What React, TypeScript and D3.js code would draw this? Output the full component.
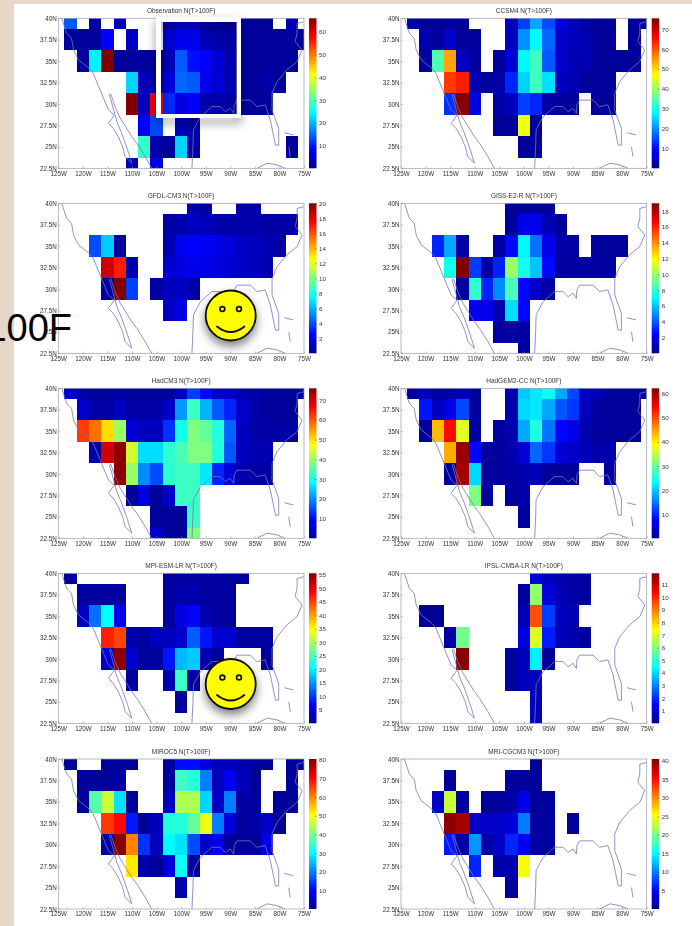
import React, { useEffect, useRef } from 'react';
import * as d3 from 'd3';

const _ = null;

// rows run 40N down to 22.5N, columns run 125W to 75W in 2.5 degree steps
const lats = [40, 37.5, 35, 32.5, 30, 27.5, 25, 22.5];
const lons = [125, 122.5, 120, 117.5, 115, 112.5, 110, 107.5, 105, 102.5, 100, 97.5, 95, 92.5, 90, 87.5, 85, 82.5, 80, 77.5, 75];

const latLabels = ['40N', '37.5N', '35N', '32.5N', '30N', '27.5N', '25N', '22.5N'];
const lonTicks = [125, 120, 115, 110, 105, 100, 95, 90, 85, 80, 75];

const observation = [
  [_, 14, _, 1, _, 3, _, _, _, 4, 6, 6, 3, 2, 2, 1, 1, 1, _, 2, _],
  [_, 1, 1, 1, 8, _, 4, _, _, 5, 7, 7, 3, 2, 2, 1, 1, 1, 1, 1, 1],
  [_, _, 1, 24, 66, 1, 1, 1, 1, 3, 14, 9, 8, 5, 3, 1, 1, 1, 1, 1, _],
  [_, _, _, _, _, _, 22, 3, 3, 6, 15, 14, 7, 5, 3, 1, 1, 2, 1, _, _],
  [_, _, _, _, _, _, 66, 3, 58, 11, 6, 8, 2, 2, 2, 1, 1, 1, _, _, _],
  [_, _, _, _, _, _, _, 8, 13, _, 3, 2, _, _, _, _, _, _, _, _, _],
  [_, _, _, _, _, _, _, 28, 2, 1, 22, 2, _, _, _, _, _, _, _, 1, _],
  [_, _, _, _, _, _, 3, _, 6, _, _, _, _, _, _, _, _, _, _, _, _],
];

const ccsm4 = [
  [_, 2, 1, 1, 1, 1, _, _, _, 4, 14, 22, 15, 7, 4, 2, 1, 1, _, 1, 1],
  [_, _, 3, 1, 5, 1, 1, _, _, 4, 20, 28, 17, 5, 4, 3, 1, 1, _, 1, _],
  [_, _, 1, 34, 54, 4, 1, _, 1, 6, 28, 33, 16, 5, 3, 3, 1, 1, 1, 1, _],
  [_, _, _, _, 62, 64, 3, 1, 2, 12, 25, 33, 26, 4, 3, 1, 1, 1, _, _, _],
  [_, _, _, _, 13, 75, 7, _, 2, 4, 14, 12, 2, 1, 1, _, 1, 1, _, _, _],
  [_, _, _, _, _, _, _, _, 1, 1, 46, 1, _, _, _, _, _, _, _, _, _],
  [_, _, _, _, _, _, _, _, _, _, 1, 1, _, _, _, _, _, _, _, _, _],
  [_, _, _, _, _, _, _, _, _, _, _, _, _, _, _, _, _, _, _, _, _],
];

const gfdl = [
  [_, _, _, _, _, _, _, _, _, _, _, 0.5, 0.5, _, _, 0.5, 0.5, _, _, _, _],
  [_, _, _, _, _, _, _, _, _, 0.5, 0.8, 1.2, 1, 0.7, 0.6, 0.6, 0.6, 0.5, 0.5, 0.5, _],
  [_, _, _, 4, 6.5, 0.4, _, _, _, 0.8, 2.2, 2.5, 2.3, 2, 1.6, 1.2, 1, 0.8, 0.5, _, _],
  [_, _, _, _, 18.5, 17, 0.6, _, _, 1.5, 1.8, 2, 2, 1.8, 1.5, 1.2, 1, 0.7, _, _, _],
  [_, _, _, _, 0.5, 20, 3.7, _, 0.5, 1, 1.2, 0.6, _, _, _, _, _, _, _, _, _],
  [_, _, _, _, _, _, _, _, _, 1.2, 1.8, _, _, _, _, _, _, _, _, _, _],
  [_, _, _, _, _, _, _, _, _, _, _, _, _, _, _, _, _, _, _, _, _],
  [_, _, _, _, _, _, _, _, _, _, _, _, _, _, _, _, _, _, _, _, _],
];

const giss = [
  [_, _, _, _, _, _, _, _, _, 0.3, 0.3, 0.3, 0.3, _, _, _, _, _, _, _, _],
  [_, _, _, _, _, _, _, _, _, 0.3, 2, 2, 0.8, 0.3, _, _, _, _, _, _, _],
  [_, _, _, 3, 5.5, 0.5, _, _, 0.5, 2.5, 7, 4.5, 2, 0.5, 0.5, _, 0.3, 0.3, 0.3, _, _],
  [_, _, _, _, 7.5, 19, 3.5, 0.5, 3, 10, 7.5, 6, 2.5, 0.4, 0.4, 0.4, 0.4, 0.4, _, _, _],
  [_, _, _, _, _, 0.4, 8, 3, 5, 8.5, 2.5, 1.2, 0.6, _, _, _, _, _, _, _, _],
  [_, _, _, _, _, _, 2, 2, 0.7, 6.5, 2.5, _, _, _, _, _, _, _, _, _, _],
  [_, _, _, _, _, _, _, _, 0.4, 0.4, 0.4, _, _, _, _, _, _, _, _, _, _],
  [_, _, _, _, _, _, _, _, _, _, 0.4, _, _, _, _, _, _, _, _, _, _],
];

const hadcm3 = [
  [_, 5, 2, 1, 1, 2, 1, 1, 1, 1, 4, 14, 10, 5, 5, 3, 2, 1, 1, 1, 2],
  [_, _, 5, 2, 2, 4, 2, 2, 2, 5, 21, 33, 23, 16, 12, 5, 2, 1, 1, 1, _],
  [_, _, 62, 58, 50, 40, 6, 4, 4, 13, 30, 38, 36, 31, 17, 4, 2, 2, 2, 2, _],
  [_, _, _, 2, 70, 75, 44, 26, 26, 32, 34, 38, 38, 31, 16, 4, 3, 3, _, _, _],
  [_, _, _, _, _, 75, 40, 20, 15, 32, 33, 33, 27, 12, 6, 3, 2, 2, _, _, _],
  [_, _, _, _, _, _, 1, 7, 1, 5, 33, 33, _, _, _, _, _, _, _, _, _],
  [_, _, _, _, _, _, _, _, 1, 1, 1, 33, _, _, _, _, _, _, _, _, _],
  [_, _, _, _, _, _, _, _, 5, 1, 1, 38, _, _, _, _, _, _, _, _, _],
];

const hadgem2 = [
  [_, 1, 3, 1.5, 1.5, 3, 1, _, _, 2, 20, 22, 24, 18, 12, 4, 3, 1, 1, 1, 1],
  [_, _, 9, 3.5, 6, 12, 1, _, _, 2, 21, 22, 18, 13, 11, 3, 1, 1, 0.8, 0.8, _],
  [_, _, 1, 43, 54, 37, 1, _, 1, 2, 18, 25, 15, 8, 6, 2, 1, 1, 1, 1, _],
  [_, _, _, _, 44, 61, 8, 1, 1, 2, 5, 14, 11, 5, 4, 3, 2, 2, _, _, _],
  [_, _, _, _, 1, 60, 21, 1, 1, 1.5, 2, 3, 1, 1, 1, _, _, 1.5, _, _, _],
  [_, _, _, _, _, _, 31, 1, _, 1, 2, _, _, _, _, _, _, _, _, _, _],
  [_, _, _, _, _, _, _, _, _, _, 1, _, _, _, _, _, _, _, _, _, _],
  [_, _, _, _, _, _, _, _, _, _, _, _, _, _, _, _, _, _, _, _, _],
];

const mpi = [
  [_, 1, _, _, _, _, _, _, _, 1, 1, 1, 1, 1, 1, 1, _, _, _, _, _],
  [_, _, 1, 1, 1, 1, _, _, _, 1, 2, 2, 1, 1, 1, _, _, _, _, _, _],
  [_, _, 3, 13, 21, 6, _, _, _, 1, 5, 7, 2, 1, 1, _, _, _, _, _, _],
  [_, _, _, _, 47, 45, 2, 1, 3, 3, 4, 12, 8, 4, 4, 1, 1, 1, _, _, _],
  [_, _, _, _, 4, 55, 4, 1, 1, 8, 17, 18, 2, 1, _, _, _, 1, _, _, _],
  [_, _, _, _, _, _, 1, _, _, 2, 24, 1, _, _, _, _, _, _, _, _, _],
  [_, _, _, _, _, _, _, _, _, _, 1, _, _, _, _, _, _, _, _, _, _],
  [_, _, _, _, _, _, _, _, _, _, _, _, _, _, _, _, _, _, _, _, _],
];

const ipsl = [
  [_, _, _, _, _, _, _, _, _, _, _, 1, 0.6, 0.4, 0.3, 0.2, _, _, _, _, _],
  [_, _, _, _, _, _, _, _, _, _, 0.2, 6.2, 1, 0.5, 0.3, 0.2, _, _, _, _, _],
  [_, _, 0.1, 0.1, _, _, _, _, _, _, 0.5, 9.5, 2.2, 0.6, 0.5, _, _, _, _, _, _],
  [_, _, _, _, 0.3, 5.8, _, _, _, _, 1, 7, 1.8, 0.5, 0.4, 0.2, _, _, _, _, _],
  [_, _, _, _, _, 11.8, _, _, _, 0.2, 0.6, 4.3, 0.1, _, _, _, _, _, _, _, _],
  [_, _, _, _, _, _, _, _, _, 0.2, 0.6, 0.6, _, _, _, _, _, _, _, _, _],
  [_, _, _, _, _, _, _, _, _, _, _, 0.6, _, _, _, _, _, _, _, _, _],
  [_, _, _, _, _, _, _, _, _, _, _, 0.6, _, _, _, _, _, _, _, _, _],
];

const miroc5 = [
  [_, 1, _, _, 1, 1, 1, _, _, 1, 11, 11, 7, 4, 4, 3, 2, 1, _, 1, 1],
  [_, _, 1, 1, 1, 2, _, _, _, 1, 35, 33, 20, 4, 9, 4, 1, _, _, 1, _],
  [_, _, 1, 37, 46, 28, 1, _, _, 4, 44, 44, 27, 5, 20, 2, 1, _, 1, 1, _],
  [_, _, _, _, 66, 70, 12, 1, 4, 33, 33, 38, 49, 20, 7, 1, 2, 5, 1, _, _],
  [_, _, _, _, 2, 80, 60, 14, 4, 30, 28, 16, 5, 8, 1, 1, 1, 8, _, _, _],
  [_, _, _, _, _, _, 52, 3, 1, 7, 31, 1, _, _, _, _, _, _, _, _, _],
  [_, _, _, _, _, _, _, _, _, _, 3, _, _, _, _, _, _, _, _, _, _],
  [_, _, _, _, _, _, _, _, _, _, _, _, _, _, _, _, _, _, _, _, _],
];

const mri = [
  [_, _, _, _, _, _, _, _, _, _, _, 0.5, _, _, _, _, _, _, _, _, _],
  [_, _, _, _, 0.5, _, _, _, _, 0.7, 0.5, 0.5, _, _, _, _, _, _, _, _, _],
  [_, _, _, 2.5, 23, 0.7, _, 0.5, 0.5, 1.2, 4, 0.6, 0.6, _, _, _, _, _, _, _, _],
  [_, _, _, _, 40, 39, 2.5, 2.5, 2.5, 3.5, 10, 1, 0.7, _, 0.5, _, _, _, _, _, _],
  [_, _, _, _, 6, 1, 11, 1.2, 2.5, 6.5, 4.5, 1, 0.7, _, _, _, _, _, _, _, _],
  [_, _, _, _, _, _, 6.5, _, 1.2, 1.5, 25, _, _, _, _, _, _, _, _, _, _],
  [_, _, _, _, _, _, _, _, _, 0.6, _, _, _, _, _, _, _, _, _, _, _],
  [_, _, _, _, _, _, _, _, _, _, _, _, _, _, _, _, _, _, _, _, _],
];

const titles = [
  'Observation N(T>100F)', 'CCSM4 N(T>100F)',
  'GFDL-CM3 N(T>100F)', 'GISS-E2-R N(T>100F)',
  'HadCM3 N(T>100F)', 'HadGEM2-CC N(T>100F)',
  'MPI-ESM-LR N(T>100F)', 'IPSL-CM5A-LR N(T>100F)',
  'MIROC5 N(T>100F)', 'MRI-CGCM3 N(T>100F)',
];
const grids = [observation, ccsm4, gfdl, giss, hadcm3, hadgem2, mpi, ipsl, miroc5, mri];
const colorMax = [66, 75.5, 20, 19, 76, 62.3, 55.6, 11.9, 80.5, 40.5];
const colorTicks = [
  [10, 20, 30, 40, 50, 60],
  [10, 20, 30, 40, 50, 60, 70],
  [2, 4, 6, 8, 10, 12, 14, 16, 18, 20],
  [2, 4, 6, 8, 10, 12, 14, 16, 18],
  [10, 20, 30, 40, 50, 60, 70],
  [10, 20, 30, 40, 50, 60],
  [5, 10, 15, 20, 25, 30, 35, 40, 45, 50, 55],
  [1, 2, 3, 4, 5, 6, 7, 8, 9, 10, 11],
  [10, 20, 30, 40, 50, 60, 70, 80],
  [5, 10, 15, 20, 25, 30, 35, 40],
];

// outlines as [degrees west, degrees north]
const bajaCoast = [[124.3, 40], [123.3, 38.25], [122.3, 37.65], [121.9, 36.3], [120.9, 35.15], [118.7, 34.15], [117.9, 33.6], [116.5, 31.65], [114.8, 29.3], [113.6, 28.7], [114.8, 27.75], [113.8, 27.15], [112.8, 26.2], [111.9, 25], [111.4, 23.85], [110.05, 23.1], [110.9, 24.65], [112.1, 26.6], [113.1, 27.95], [114.1, 30.1], [114.6, 31.05]];
const mexicoCoast = [[114.6, 31.05], [114.3, 31.15], [113.45, 29.7], [112.4, 28.35], [110.05, 26.2], [109, 25.4], [107.3, 23.85], [106, 22.5]];
const gulfCoast = [[97.8, 22.5], [97.6, 25], [97.5, 27], [96.1, 28.5], [93.75, 29.7], [92.05, 29.7], [91, 29.1], [90, 29.5], [89.3, 28.9], [89.2, 29.9], [88.65, 30.45], [85.9, 30.45], [84.6, 29.7], [82.9, 29.9], [81.85, 28.15], [80.8, 25.2], [80.15, 25.2], [80.15, 27.15], [81.5, 29.3], [81.5, 31.25], [80.5, 32.6], [78.45, 34], [76.4, 34.95], [75.4, 36.3], [76.8, 37.3], [76.4, 38.25], [76.4, 39.4], [75.05, 39.6]];
const cubaCoast = [[84.6, 22.5], [82.5, 23.1], [80.5, 22.9], [78.8, 22.5]];
const bahamasNorth = [[79, 26.65], [77.2, 26.4]];
const bahamasSouth = [[78.1, 25], [77.8, 23.85]];
const coasts = [bajaCoast, mexicoCoast, gulfCoast, cubaCoast, bahamasNorth, bahamasSouth];

const jet = d3.scaleLinear<string>()
  .domain([0, 0.125, 0.375, 0.625, 0.875, 1])
  .range(['#00008f', '#0000ff', '#00ffff', '#ffff00', '#ff0000', '#800000']);

const colLeft = [58.3, 401];
const rowTop = [18.3, 203.3, 388.3, 573.3, 759];
const plotW = 245.7;
const plotH = 150;

const App = () => {
  const svgRef = useRef<SVGSVGElement>(null);

  useEffect(() => {
    const svg = d3.select(svgRef.current);
    svg.selectAll('*').remove();

    const defs = svg.append('defs');
    defs.append('filter').attr('id', 'soft')
      .attr('x', 0).attr('y', 0).attr('width', 1).attr('height', 1)
      .attr('color-interpolation-filters', 'sRGB')
      .append('feGaussianBlur').attr('stdDeviation', 0.55);
    const shadow = defs.append('filter').attr('id', 'shadow')
      .attr('x', '-40%').attr('y', '-40%').attr('width', '180%').attr('height', '180%');
    shadow.append('feDropShadow')
      .attr('dx', 0).attr('dy', 5).attr('stdDeviation', 5)
      .attr('flood-color', '#000').attr('flood-opacity', 0.5);

    const bar = defs.append('linearGradient').attr('id', 'jet')
      .attr('x1', 0).attr('y1', 1).attr('x2', 0).attr('y2', 0);
    d3.range(0, 1.001, 0.125).forEach(t => {
      bar.append('stop').attr('offset', t).attr('stop-color', jet(t));
    });

    const page = svg.append('g').attr('filter', 'url(#soft)');
    page.append('rect').attr('width', 692).attr('height', 926).attr('fill', '#e6d7c8');
    page.append('rect').attr('x', 14).attr('y', 4).attr('width', 678).attr('height', 922).attr('fill', '#fff');

    titles.forEach((title, i) => {
      const left = colLeft[i % 2];
      const top = rowTop[Math.floor(i / 2)];
      const clipId = `plot-${i}`;
      defs.append('clipPath').attr('id', clipId)
        .append('rect').attr('width', plotW).attr('height', plotH);

      const x = d3.scaleLinear().domain([125, 75]).range([0, plotW]);
      const y = d3.scaleLinear().domain([40, 22.5]).range([0, plotH]);
      const value = d3.scaleLinear().domain([0, colorMax[i]]).range([0, 1]);

      const g = page.append('g').attr('transform', `translate(${left},${top})`);
      const plot = g.append('g').attr('clip-path', `url(#${clipId})`);

      grids[i].forEach((row, r) => {
        row.forEach((v, c) => {
          if (v === null) return;
          plot.append('rect')
            .attr('x', x(lons[c] + 1.25))
            .attr('y', y(lats[r] + 1.25))
            .attr('width', x(lons[c] - 1.25) - x(lons[c] + 1.25))
            .attr('height', y(lats[r] - 1.25) - y(lats[r] + 1.25))
            .attr('fill', jet(value(v)))
            .attr('shape-rendering', 'crispEdges');
        });
      });

      const line = d3.line<number[]>().x(d => x(d[0])).y(d => y(d[1]));
      coasts.forEach(c => {
        plot.append('path')
          .attr('d', line(c))
          .attr('fill', 'none')
          .attr('stroke', '#7577b2')
          .attr('stroke-width', 0.8);
      });

      g.append('rect').attr('width', plotW).attr('height', plotH)
        .attr('fill', 'none').attr('stroke', '#9a9ab0').attr('stroke-width', 0.7);

      const xAxis = d3.axisBottom(x).tickValues(lonTicks).tickSize(-2).tickPadding(3)
        .tickFormat(d => `${d}W`);
      const yAxis = d3.axisLeft(y).tickValues(lats).tickSize(-2).tickPadding(1.5)
        .tickFormat((d, k) => latLabels[k]);

      [g.append('g').attr('transform', `translate(0,${plotH})`).call(xAxis),
        g.append('g').call(yAxis)].forEach(axis => {
        axis.select('.domain').remove();
        axis.selectAll('.tick line').attr('stroke', '#888').attr('stroke-width', 0.5);
        axis.selectAll('text')
          .attr('fill', '#333')
          .style('font-family', '"Liberation Sans", Arial, sans-serif')
          .style('font-size', '6.3px');
      });

      g.append('text')
        .attr('x', plotW / 2).attr('y', -5)
        .attr('text-anchor', 'middle')
        .attr('fill', '#333')
        .style('font-family', '"Liberation Sans", Arial, sans-serif')
        .style('font-size', '6.5px')
        .text(title);

      // colorbar
      const barScale = d3.scaleLinear().domain([0, colorMax[i]]).range([plotH, 0]);
      const barG = g.append('g').attr('transform', `translate(${plotW + 5},0)`);
      barG.append('rect').attr('width', 7.5).attr('height', plotH).attr('fill', 'url(#jet)');
      const barAxis = d3.axisRight(barScale).tickValues(colorTicks[i]).tickSize(-1.5).tickPadding(2.5);
      const bg = barG.append('g').attr('transform', 'translate(7.5,0)').call(barAxis);
      bg.select('.domain').remove();
      bg.selectAll('.tick line').attr('stroke', '#444').attr('stroke-width', 0.5);
      bg.selectAll('text')
        .attr('fill', '#333')
        .style('font-family', '"Liberation Sans", Arial, sans-serif')
        .style('font-size', '6.2px');
    });

    // slide overlays
    const frame = svg.append('g').attr('filter', 'url(#shadow)');
    frame.append('path')
      .attr('fill-rule', 'evenodd')
      .attr('fill', '#fff')
      .attr('d', 'M156,17H241V118H156ZM161,22V114H236.7V22Z');

    svg.append('text')
      .attr('x', 72).attr('y', 341)
      .attr('text-anchor', 'end')
      .attr('fill', '#000')
      .style('font-family', '"Liberation Sans", Arial, sans-serif')
      .style('font-size', '38px')
      .text('100F');

    [[230.7, 315.5], [230.7, 684]].forEach(([cx, cy]) => {
      const s = svg.append('g').attr('transform', `translate(${cx},${cy})`);
      s.append('circle').attr('r', 25).attr('fill', '#ffff00')
        .attr('stroke', '#111').attr('stroke-width', 1.8).attr('filter', 'url(#shadow)');
      [-8.3, 8.3].forEach(ex => {
        s.append('circle').attr('cx', ex).attr('cy', -6.5).attr('r', 2.4)
          .attr('fill', '#ffff00').attr('stroke', '#111').attr('stroke-width', 1.7);
      });
      s.append('path').attr('d', 'M-13.7,11Q0,22 13.7,11')
        .attr('fill', 'none').attr('stroke', '#111').attr('stroke-width', 1.9).attr('stroke-linecap', 'round');
    });
  }, []);

  return (
    <svg
      ref={svgRef}
      width={692}
      height={926}
      style={{ position: 'absolute', left: 0, top: 0, display: 'block' }}
    />
  );
};

export default App;
